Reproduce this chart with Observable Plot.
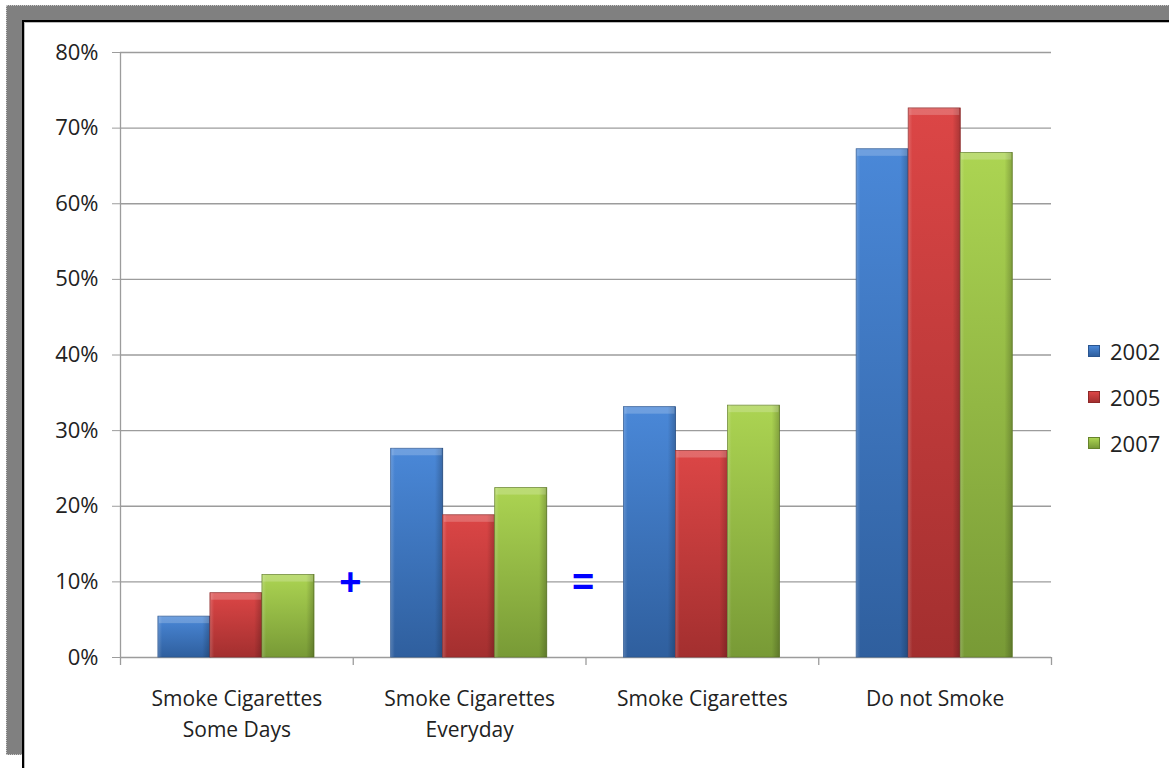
<!DOCTYPE html>
<html><head><meta charset="utf-8">
<script src="https://cdn.jsdelivr.net/npm/d3@7"></script>
<script src="https://cdn.jsdelivr.net/npm/@observablehq/plot@0.6"></script>
<style>
html,body{margin:0;padding:0}
body{width:1169px;height:768px;overflow:hidden;background:#fff;position:relative;font-family:"Open Sans",sans-serif}
#outer{position:absolute;left:6px;top:5px;width:1200px;height:748px;background:#808080;border:1px dotted #c8c8c8}
#inner{position:absolute;left:22px;top:20px;width:1200px;height:760px;background:#fff;border-left:2px solid #000;border-top:2px solid #000;box-shadow:inset 1px 1px 0 #bbb}
#chart{position:absolute;left:0;top:0}
#legend{position:absolute;left:1088px;top:328px;font-size:22px;color:#222}
.li{display:flex;align-items:center;height:46px}
.sw{width:12px;height:12px;margin-right:10px;box-sizing:border-box}
</style></head>
<body>
<div id="outer"></div>
<div id="inner"></div>
<div id="chart"></div>
<div id="legend"></div>
<script>
// ---- data ----
const categories = ["Smoke Cigarettes\nSome Days", "Smoke Cigarettes\nEveryday", "Smoke Cigarettes", "Do not Smoke"];
const years = ["2002", "2005", "2007"];
const v2002 = [5.4, 27.6, 33.1, 67.2];
const v2005 = [8.5, 18.8, 27.3, 72.6];
const v2007 = [10.9, 22.4, 33.3, 66.7];
const yTicks = [0, 10, 20, 30, 40, 50, 60, 70, 80];
const operators = ["+", "="];           // shown between group i and i+1
const operatorAfter = [0, 1];
const operatorLevel = 10;

// ---- styles ----
const palette = {
  "2002": {top: "#4a88d8", bottom: "#2f5f9e", stroke: "#2a5590"},
  "2005": {top: "#dc4646", bottom: "#a32f2f", stroke: "#8e2828"},
  "2007": {top: "#acd452", bottom: "#789a36", stroke: "#66832c"}
};
const seriesValues = {"2002": v2002, "2005": v2005, "2007": v2007};

const rows = categories.flatMap((cat, gi) => years.map((year, yi) => ({cat, gi, year, yi, value: seriesValues[year][gi]})));
const groupPad = 0.163, barW = 0.2235;
const bx1 = d => d.gi + groupPad + d.yi * barW;
const bx2 = d => d.gi + groupPad + (d.yi + 1) * barW;
const bounds = d3.range(categories.length + 1);

const barMarks = years.flatMap(yr => {
  const data = rows.filter(r => r.year === yr);
  return [
    Plot.rectY(data, {x1: bx1, x2: bx2, y1: 0, y2: "value", fill: `url(#g${yr})`, stroke: palette[yr].stroke, strokeWidth: 0.8}),
    Plot.rectY(data, {x1: bx1, x2: bx2, y1: 0, y2: "value", fill: "url(#hshade)"}),
    Plot.rectY(data, {x1: bx1, x2: bx2, y1: "value", y2: "value", insetBottom: -7, insetLeft: 1, insetRight: 1, fill: "white", fillOpacity: 0.2})
  ];
});

const chart = Plot.plot({
  width: 1169,
  height: 768,
  marginLeft: 120,
  marginRight: 118,
  marginTop: 52,
  marginBottom: 111,
  style: {background: "none", fontFamily: "'Open Sans', sans-serif", color: "#222"},
  x: {type: "linear", domain: [0, categories.length], axis: null, label: null},
  y: {domain: [0, 80], axis: null, label: null},
  marks: [
    Plot.ruleY(yTicks, {y: d => d, x1: 0, x2: categories.length, stroke: "#9c9c9c", strokeWidth: 1.3, strokeOpacity: 1}),
    Plot.axisY(yTicks, {label: null, tickSize: 8, tickPadding: 14, tickFormat: d => d + "%", fontSize: 22, stroke: "#9c9c9c", strokeOpacity: 1, fill: "#222"}),
    Plot.ruleX([0], {y1: 0, y2: 80, stroke: "#9c9c9c", strokeWidth: 1.3}),
    Plot.ruleX(bounds, {x: d => d, y1: 0, y2: 0, insetBottom: -8, stroke: "#9c9c9c", strokeWidth: 1.3}),
    ...barMarks,
    Plot.text(categories, {x: (d, i) => i + 0.5, y: 0, dy: 27, lineAnchor: "top", lineHeight: 1.45, fontSize: 21, fill: "#222"}),
    Plot.text(operators, {x: (d, i) => operatorAfter[i] + 1, y: operatorLevel, dx: -3, dy: 1, fontSize: 38, fontWeight: "bold", fill: "#0000ff", fontFamily: "'Liberation Sans', sans-serif"})
  ]
});

// gradients
const svg = d3.select(chart);
const defs = svg.insert("defs", ":first-child");
for (const yr of years) {
  const g = defs.append("linearGradient").attr("id", `g${yr}`).attr("x1", 0).attr("y1", 0).attr("x2", 0).attr("y2", 1);
  g.append("stop").attr("offset", "0%").attr("stop-color", palette[yr].top);
  g.append("stop").attr("offset", "100%").attr("stop-color", palette[yr].bottom);
}
const h = defs.append("linearGradient").attr("id", "hshade").attr("x1", 0).attr("y1", 0).attr("x2", 1).attr("y2", 0);
h.append("stop").attr("offset", "0%").attr("stop-color", "#fff").attr("stop-opacity", 0.18);
h.append("stop").attr("offset", "8%").attr("stop-color", "#fff").attr("stop-opacity", 0.0);
h.append("stop").attr("offset", "85%").attr("stop-color", "#000").attr("stop-opacity", 0.0);
h.append("stop").attr("offset", "100%").attr("stop-color", "#000").attr("stop-opacity", 0.22);

document.getElementById("chart").appendChild(chart);

// legend
const legend = document.getElementById("legend");
for (const yr of years) {
  const item = document.createElement("div");
  item.className = "li";
  const sw = document.createElement("div");
  sw.className = "sw";
  sw.style.background = `linear-gradient(${palette[yr].top}, ${palette[yr].bottom})`;
  sw.style.border = `1px solid ${palette[yr].stroke}`;
  const t = document.createElement("span");
  t.textContent = yr;
  item.append(sw, t);
  legend.appendChild(item);
}
</script>
</body></html>
